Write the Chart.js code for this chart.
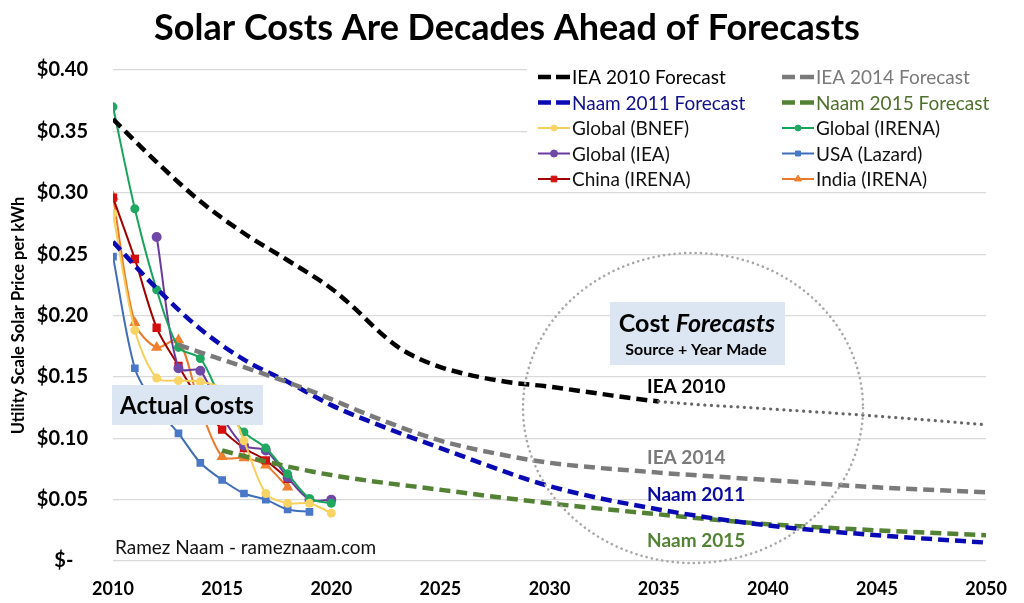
<!DOCTYPE html>
<html>
<head>
<meta charset="utf-8">
<script src="https://cdn.jsdelivr.net/npm/chart.js@4.4.0/dist/chart.umd.min.js"></script>
<style>
  html, body { margin: 0; padding: 0; background: #fff; }
  #wrap { width: 1024px; height: 603px; }
</style>
</head>
<body>
<div id="wrap"><canvas id="solar-chart"></canvas></div>
<script>
const FONT = 'Lato, "Open Sans", sans-serif';

// forecasts (year, $/kWh)
const iea2010_years  = [2010, 2012, 2014, 2016, 2018, 2020, 2021, 2022, 2023, 2024, 2025, 2026, 2028, 2030, 2032, 2035, 2040, 2045, 2050];
const iea2010_values = [0.360, 0.325, 0.293, 0.267, 0.245, 0.222, 0.207, 0.190, 0.175, 0.165, 0.158, 0.153, 0.146, 0.142, 0.137, 0.130, 0.124, 0.118, 0.111];
const iea2010_solid_until = 2035;

const iea2014_years  = [2013, 2014, 2016, 2019, 2022, 2025, 2028, 2030, 2035, 2040, 2045, 2050];
const iea2014_values = [0.176, 0.170, 0.158, 0.139, 0.117, 0.098, 0.086, 0.080, 0.072, 0.066, 0.060, 0.056];

const naam2011_years  = [2010, 2012, 2014, 2016, 2018, 2020, 2022, 2025, 2030, 2035, 2040, 2045, 2050];
const naam2011_values = [0.260, 0.222, 0.189, 0.164, 0.146, 0.127, 0.112, 0.092, 0.061, 0.042, 0.029, 0.021, 0.015];

const naam2015_years  = [2015, 2017, 2020, 2025, 2030, 2035, 2040, 2045, 2050];
const naam2015_values = [0.090, 0.081, 0.070, 0.058, 0.047, 0.038, 0.030, 0.025, 0.021];

// actual costs
const actual_years = [2010, 2011, 2012, 2013, 2014, 2015, 2016, 2017, 2018, 2019, 2020];
const global_bnef  = [0.283, 0.188, 0.149, 0.147, 0.146, 0.140, 0.098, 0.055, 0.047, 0.047, 0.039];
const global_irena = [0.370, 0.287, 0.221, 0.174, 0.165, 0.130, 0.105, 0.092, 0.071, 0.051, 0.047];
const global_iea   = [null, null, 0.264, 0.157, 0.155, 0.118, 0.094, 0.090, 0.068, 0.050, 0.050];
const usa_lazard   = [0.248, 0.157, 0.125, 0.104, 0.080, 0.066, 0.055, 0.050, 0.042, 0.040, null];
const china_irena  = [0.296, 0.246, 0.190, 0.159, 0.130, 0.107, 0.092, 0.082, 0.067, null, null];
const india_irena  = [0.297, 0.194, 0.174, 0.180, 0.125, 0.085, 0.084, 0.078, 0.060, null, null];

const x_ticks = [2010, 2015, 2020, 2025, 2030, 2035, 2040, 2045, 2050];

function pairs(xs, ys) {
    return xs.map((x, i) => ({ x: x, y: ys[i] }));
}

function forecast(label, xs, ys, color, textColor) {
    return {
        label: label,
        data: pairs(xs, ys),
        borderColor: color,
        backgroundColor: color,
        borderWidth: 4.5,
        borderDash: [11, 6],
        pointRadius: 0,
        cubicInterpolationMode: 'monotone',
        legendText: textColor,
        legendDash: true
    };
}

function actual(label, ys, color, marker, style, size) {
    return {
        label: label,
        data: pairs(actual_years, ys),
        borderColor: color,
        backgroundColor: marker,
        pointBorderColor: marker,
        borderWidth: 2,
        pointStyle: style,
        pointRadius: size,
        tension: 0.3,
        spanGaps: true,
        legendText: '#111'
    };
}

const datasets = [
    forecast('IEA 2010 Forecast', iea2010_years, iea2010_values, '#000000', '#000000'),
    forecast('IEA 2014 Forecast', iea2014_years, iea2014_values, '#7a7a7a', '#7a7a7a'),
    forecast('Naam 2011 Forecast', naam2011_years, naam2011_values, '#0a0ab4', '#10108a'),
    forecast('Naam 2015 Forecast', naam2015_years, naam2015_values, '#548235', '#4f6f2c'),
    actual('Global (BNEF)', global_bnef, '#f7cf5a', '#f7d464', 'circle', 3.5),
    actual('Global (IRENA)', global_irena, '#18a35a', '#20a862', 'circle', 3.5),
    actual('Global (IEA)', global_iea, '#6a3a9e', '#7048a8', 'circle', 4),
    actual('USA (Lazard)', usa_lazard, '#3f6db8', '#4a78c8', 'rect', 4),
    actual('China (IRENA)', china_irena, '#a00000', '#d40f0f', 'rect', 4.5),
    actual('India (IRENA)', india_irena, '#ec7a2c', '#f08030', 'triangle', 4.5)
];

// IEA 2010 turns dotted after its last forecast year
const dotted = c => c.p0.parsed.x >= iea2010_solid_until;
datasets[0].segment = {
    borderDash: c => dotted(c) ? [0.1, 6.5] : undefined,
    borderColor: c => dotted(c) ? '#666666' : undefined,
    borderWidth: c => dotted(c) ? 3.2 : undefined,
    borderCapStyle: c => dotted(c) ? 'round' : undefined
};
datasets[0].borderCapStyle = 'butt';

const overlay = {
    id: 'overlay',
    beforeDatasetsDraw(chart) {
        // legend panel hides the gridlines behind it
        const ctx = chart.ctx;
        ctx.save();
        ctx.fillStyle = '#ffffff';
        ctx.fillRect(527, 60, 480, 128);
        ctx.restore();
    },
    afterDatasetsDraw(chart) {
        const ctx = chart.ctx;
        ctx.save();

        // dotted circle round the forecasts
        ctx.strokeStyle = '#a8a8a8';
        ctx.lineWidth = 2.6;
        ctx.lineCap = 'round';
        ctx.setLineDash([0.1, 5.2]);
        ctx.beginPath();
        ctx.ellipse(693, 408, 170, 155, 0, 0, Math.PI * 2);
        ctx.stroke();
        ctx.setLineDash([]);

        // Actual Costs box
        ctx.fillStyle = '#dce6f2';
        ctx.fillRect(112, 385, 151, 40);
        ctx.fillStyle = '#000';
        ctx.font = 'bold 24px ' + FONT;
        ctx.textAlign = 'center';
        ctx.textBaseline = 'middle';
        ctx.fillText('Actual Costs', 187, 406);

        // Cost Forecasts box
        ctx.fillStyle = '#dce6f2';
        ctx.fillRect(610, 302, 175, 63);
        ctx.fillStyle = '#000';
        ctx.font = 'bold 25px ' + FONT;
        const w1 = ctx.measureText('Cost ').width;
        ctx.font = 'italic bold 25px ' + FONT;
        const w2 = ctx.measureText('Forecasts').width;
        const sx = 697 - (w1 + w2) / 2;
        ctx.textAlign = 'left';
        ctx.font = 'bold 25px ' + FONT;
        ctx.fillText('Cost ', sx, 324);
        ctx.font = 'italic bold 25px ' + FONT;
        ctx.fillText('Forecasts', sx + w1, 324);
        ctx.font = 'bold 16px ' + FONT;
        ctx.textAlign = 'center';
        ctx.fillText('Source + Year Made', 696, 350);

        // series labels
        ctx.textAlign = 'left';
        ctx.font = 'bold 19px ' + FONT;
        ctx.fillStyle = '#000';
        ctx.fillText('IEA 2010', 647, 387);
        ctx.fillStyle = '#7a7a7a';
        ctx.fillText('IEA 2014', 647, 458);
        ctx.fillStyle = '#0a0aa0';
        ctx.fillText('Naam 2011', 647, 495);
        ctx.fillStyle = '#548235';
        ctx.fillText('Naam 2015', 647, 541);

        // credit
        ctx.fillStyle = '#111';
        ctx.font = '19px ' + FONT;
        ctx.fillText('Ramez Naam - rameznaam.com', 115, 548);
        ctx.restore();
    },
    afterDraw(chart) {
        const ctx = chart.ctx;
        ctx.save();
        // title
        ctx.fillStyle = '#000';
        ctx.font = 'bold 36px ' + FONT;
        ctx.textAlign = 'center';
        ctx.textBaseline = 'middle';
        ctx.fillText('Solar Costs Are Decades Ahead of Forecasts', 507, 28);

        // legend, two columns
        ctx.font = '19px ' + FONT;
        ctx.textAlign = 'left';
        chart.data.datasets.forEach((ds, i) => {
            const col = i % 2, row = Math.floor(i / 2);
            const x0 = col === 0 ? 538 : 782;
            const y = 77 + row * 25.5;
            if (ds.legendDash) {
                ctx.strokeStyle = ds.borderColor;
                ctx.lineWidth = 4.5;
                ctx.beginPath();
                ctx.moveTo(x0, y); ctx.lineTo(x0 + 13, y);
                ctx.moveTo(x0 + 18, y); ctx.lineTo(x0 + 32, y);
                ctx.stroke();
            } else {
                ctx.strokeStyle = ds.borderColor;
                ctx.lineWidth = 2;
                ctx.beginPath();
                ctx.moveTo(x0, y); ctx.lineTo(x0 + 32, y);
                ctx.stroke();
                ctx.fillStyle = ds.backgroundColor;
                ctx.strokeStyle = ds.pointBorderColor;
                ctx.lineWidth = 1;
                Chart.helpers.drawPoint(ctx, {
                    pointStyle: ds.pointStyle, radius: ds.pointRadius - 0.5, rotation: 0, borderWidth: 1
                }, x0 + 16, y);
            }
            ctx.fillStyle = ds.legendText;
            ctx.fillText(ds.label, x0 + 34, y + 1);
        });
        ctx.restore();
    }
};

const solar_config = {
    type: 'line',
    data: { datasets: datasets },
    options: {
        responsive: true,
        maintainAspectRatio: false,
        animation: false,
        layout: { padding: { top: 70, right: 36, left: 9, bottom: 0 } },
        plugins: {
            legend: { display: false },
            title: { display: false },
            tooltip: { enabled: false }
        },
        scales: {
            x: {
                type: 'linear',
                min: 2010,
                max: 2050,
                afterBuildTicks: axis => { axis.ticks = x_ticks.map(v => ({ value: v })); },
                afterFit: axis => { axis.height = 42; },
                grid: { display: false, drawTicks: false },
                border: { display: false },
                ticks: {
                    padding: 17,
                    color: '#000',
                    font: { family: FONT, size: 18, weight: 'bold' },
                    callback: v => String(v)
                }
            },
            y: {
                min: 0,
                max: 0.4,
                afterFit: axis => { axis.width = 104; },
                grid: { color: '#d9d9d9', lineWidth: 1.2, drawTicks: false },
                border: { display: false },
                title: {
                    display: true,
                    text: 'Utility Scale Solar Price per kWh',
                    color: '#000',
                    padding: { top: 0, bottom: 5 },
                    font: { family: FONT, size: 16.5, weight: 'bold' }
                },
                ticks: {
                    stepSize: 0.05,
                    padding: 25,
                    color: '#000',
                    font: { family: FONT, size: 20, weight: 'bold' },
                    callback: v => v === 0 ? '$-   ' : '$' + v.toFixed(2)
                }
            }
        }
    },
    plugins: [overlay]
};

const solar_ctx = document.getElementById('solar-chart').getContext('2d');
const solar_chart = new Chart(solar_ctx, solar_config);
</script>
</body>
</html>
